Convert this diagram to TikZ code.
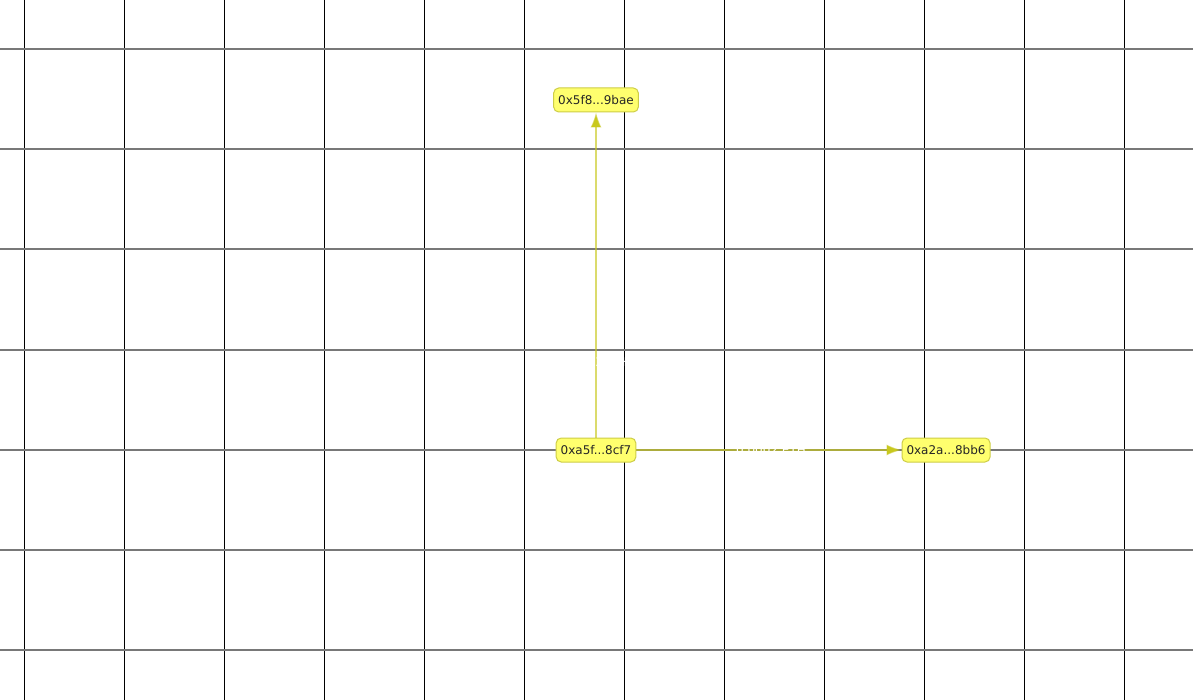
\documentclass[tikz,border=0pt]{standalone}
\usepackage{fontspec}
\setmainfont{DejaVu Sans}
\usetikzlibrary{arrows.meta}
\definecolor{nodefill}{RGB}{255,255,110}
\definecolor{nodeborder}{RGB}{205,205,70}
\definecolor{edgecol}{RGB}{200,200,30}
\definecolor{gridh}{RGB}{120,120,120}
\tikzset{
  acct/.style={draw=nodeborder, fill=nodefill, rounded corners=5pt, line width=1pt,
    inner xsep=4.5pt, inner ysep=0pt, minimum height=24pt, font=\fontsize{12}{13}\selectfont, text=black!85},
  flow/.style={draw=edgecol, draw opacity=0.65, line width=1.4pt, -{Latex[length=15pt,width=11pt,fill=edgecol]}},
  amt/.style={text=white, font=\fontsize{12}{13}\selectfont, inner sep=1pt},
}
\begin{document}
\begin{tikzpicture}[x=1pt,y=-1pt]
\useasboundingbox (0,0) rectangle (1193,700);
\fill[white] (0,0) rectangle (1193,700);
\foreach \x in {24,124,...,1124} \draw[black, line width=1pt] (\x,0) -- (\x,700);
\foreach \y in {49.5,149.5,...,649.5} \draw[gridh, line width=2pt] (0,\y) -- (1193,\y);
\node[acct] (top) at (596,100) {0x5f8...9bae};
\node[acct] (src) at (596,450) {0xa5f...8cf7};
\node[acct] (dst) at (946,450) {0xa2a...8bb6};
\draw[flow] (src) -- (top);
\draw[flow] (src) -- (dst);
\node[amt] (l1) at (596,362) {0.0003 ETH};
\node[amt] (l2) at (771,450) {0.0002 ETH};
\end{tikzpicture}
\end{document}
